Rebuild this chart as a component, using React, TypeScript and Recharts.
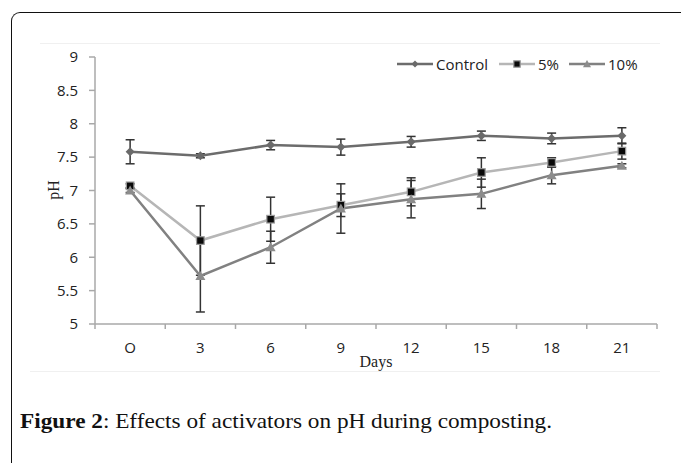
import React from 'react';
import { LineChart, Line, XAxis, YAxis, ErrorBar, Legend } from 'recharts';

const categories = ['O', '3', '6', '9', '12', '15', '18', '21'];
const controlValues = [7.58, 7.52, 7.68, 7.65, 7.73, 7.82, 7.78, 7.82];
const controlErrors = [0.18, 0.03, 0.07, 0.12, 0.08, 0.07, 0.08, 0.12];
const pct5Values = [7.07, 6.25, 6.57, 6.78, 6.98, 7.27, 7.42, 7.59];
const pct5Errors = [0.03, 0.52, 0.33, 0.17, 0.21, 0.22, 0.07, 0.12];
const pct10Values = [7.0, 5.72, 6.15, 6.73, 6.87, 6.95, 7.23, 7.37];
const pct10Errors = [0.03, 0.54, 0.24, 0.37, 0.28, 0.22, 0.13, 0.03];
const yTicks = [5, 5.5, 6, 6.5, 7, 7.5, 8, 8.5, 9];
const seriesNames = ['Control', '5%', '10%'];

const data = categories.map((c, i) => ({
  idx: i,
  day: c,
  control: controlValues[i],
  controlErr: controlErrors[i],
  p5: pct5Values[i],
  p5Err: pct5Errors[i],
  p10: pct10Values[i],
  p10Err: pct10Errors[i],
}));

const xTicks: number[] = [];
for (let i = -0.5; i <= categories.length - 0.5 + 1e-9; i += 0.5) xTicks.push(i);

const AXIS = '#a8a8a8';
const C_CONTROL = '#6c6c6c';
const C_5 = '#b6b6b6';
const C_10 = '#818181';

const Diamond = ({ cx, cy, s = 4.5 }: any) => (
  <path d={`M${cx},${cy - s}L${cx + s},${cy}L${cx},${cy + s}L${cx - s},${cy}Z`} fill="#6a6a6a" />
);
const Square = ({ cx, cy, s = 3.8 }: any) => (
  <rect x={cx - s} y={cy - s} width={2 * s} height={2 * s} fill="#0a0a0a" stroke="#9a9a9a" strokeWidth={1.2} />
);
const Triangle = ({ cx, cy, s = 5 }: any) => (
  <path d={`M${cx},${cy - s}L${cx + s},${cy + s * 0.8}L${cx - s},${cy + s * 0.8}Z`} fill="#8c8c8c" />
);

const XTick = (props: any) => {
  const { x, y, payload } = props;
  const v = payload.value;
  if (Math.abs(v - Math.round(v)) > 0.01) {
    return <line x1={x} y1={y} x2={x} y2={y + 5} stroke={AXIS} strokeWidth={1.5} />;
  }
  return (
    <text x={x} y={y + 29} textAnchor="middle" fill="#222" fontSize={15} fontFamily="'Open Sans', sans-serif">
      {categories[Math.round(v)]}
    </text>
  );
};

const LegendContent = () => {
  const items = [
    { name: seriesNames[0], color: C_CONTROL, marker: (cx: number, cy: number) => <Diamond cx={cx} cy={cy} s={3.5} /> },
    { name: seriesNames[1], color: C_5, marker: (cx: number, cy: number) => <Square cx={cx} cy={cy} s={3.2} /> },
    { name: seriesNames[2], color: C_10, marker: (cx: number, cy: number) => <Triangle cx={cx} cy={cy} s={4} /> },
  ];
  const starts = [2, 104, 174];
  return (
    <svg width={260} height={24} style={{ display: 'block' }}>
      {items.map((it, i) => {
        const x0 = starts[i];
        return (
          <g key={it.name}>
            <line x1={x0} y1={12} x2={x0 + 36} y2={12} stroke={it.color} strokeWidth={2.5} />
            {it.marker(x0 + 18, 12)}
            <text x={x0 + 39} y={17.5} fontSize={15} fill="#222" fontFamily="'Open Sans', sans-serif">
              {it.name}
            </text>
          </g>
        );
      })}
    </svg>
  );
};

export default function App() {
  return (
    <div style={{ position: 'absolute', left: 0, top: 0, width: 681, height: 463, overflow: 'hidden', background: '#fff' }}>
      <div
        style={{
          position: 'absolute',
          left: 11,
          top: 12,
          width: 720,
          height: 500,
          borderLeft: '1.5px solid #111',
          borderTop: '1.5px solid #111',
          borderTopLeftRadius: 9,
        }}
      />
      <svg width={681} height={463} style={{ position: 'absolute', left: 0, top: 0 }}>
        <line x1={40} y1={43.5} x2={660} y2={43.5} stroke="#f0f0f0" strokeWidth={1} />
        <line x1={30} y1={371.5} x2={660} y2={371.5} stroke="#f0f0f0" strokeWidth={1} />
      </svg>
      <div style={{ position: 'absolute', left: 0, top: 0 }}>
        <LineChart width={681} height={463} data={data} margin={{ top: 57, right: 24, bottom: 109, left: 35 }}>
          <XAxis
            dataKey="idx"
            type="number"
            domain={[-0.5, categories.length - 0.5]}
            ticks={xTicks}
            interval={0}
            tickLine={false}
            tickSize={0}
            tickMargin={0}
            tick={<XTick />}
            height={30}
            stroke={AXIS}
            strokeWidth={1.5}
            allowDataOverflow
          />
          <YAxis
            domain={[5, 9]}
            ticks={yTicks}
            interval={0}
            width={60}
            tickSize={6}
            tickMargin={11}
            stroke={AXIS}
            strokeWidth={1.5}
            tick={{ fill: '#222', fontSize: 15, fontFamily: "'Open Sans', sans-serif" }}
            tickLine={{ stroke: AXIS, strokeWidth: 1.5 }}
            allowDataOverflow
          />
          <Legend
            layout="horizontal"
            align="center"
            verticalAlign="middle"
            wrapperStyle={{ position: 'absolute', left: 395, top: 52, width: 260, height: 24 }}
            content={<LegendContent />}
          />
          <Line
            dataKey="control"
            name={seriesNames[0]}
            stroke={C_CONTROL}
            strokeWidth={2.5}
            isAnimationActive={false}
            dot={(p: any) => <Diamond key={`c${p.index}`} cx={p.cx} cy={p.cy} />}
          >
            <ErrorBar dataKey="controlErr" width={4.5} stroke="#333" strokeWidth={1.5} direction="y" />
          </Line>
          <Line
            dataKey="p5"
            name={seriesNames[1]}
            stroke={C_5}
            strokeWidth={2.5}
            isAnimationActive={false}
            dot={(p: any) => <Square key={`s${p.index}`} cx={p.cx} cy={p.cy} />}
          >
            <ErrorBar dataKey="p5Err" width={4.5} stroke="#333" strokeWidth={1.5} direction="y" />
          </Line>
          <Line
            dataKey="p10"
            name={seriesNames[2]}
            stroke={C_10}
            strokeWidth={2.5}
            isAnimationActive={false}
            dot={(p: any) => <Triangle key={`t${p.index}`} cx={p.cx} cy={p.cy} />}
          >
            <ErrorBar dataKey="p10Err" width={4.5} stroke="#333" strokeWidth={1.5} direction="y" />
          </Line>
        </LineChart>
      </div>
      <svg width={681} height={463} style={{ position: 'absolute', left: 0, top: 0, pointerEvents: 'none' }}>
        <text x={53} y={190} transform="rotate(-90 53 190)" textAnchor="middle" dominantBaseline="central" fontSize={16} fill="#222" fontFamily="'Liberation Serif', serif">
          pH
        </text>
        <text x={376} y={367} textAnchor="middle" fontSize={16} fill="#222" fontFamily="'Liberation Serif', serif">
          Days
        </text>
        <text x={20} y={428} fontSize={22} fill="#111" fontFamily="'Liberation Serif', serif" textLength={532} lengthAdjust="spacingAndGlyphs">
          <tspan fontWeight="bold">Figure 2</tspan>
          <tspan>: Effects of activators on pH during composting.</tspan>
        </text>
      </svg>
    </div>
  );
}
